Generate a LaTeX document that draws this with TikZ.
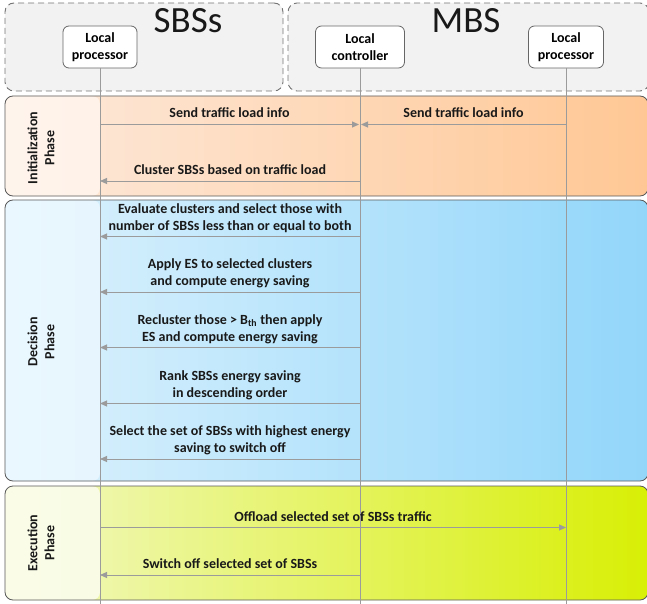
\documentclass[tikz,border=0pt]{standalone}
\usepackage{fontspec}
\setmainfont{Carlito}
\usetikzlibrary{positioning, arrows.meta, shapes.geometric}
\definecolor{groupe}{HTML}{F2F2F2}
\definecolor{bord}{HTML}{595959}
\definecolor{trait}{HTML}{9B9B9B}
\definecolor{initA}{HTML}{FFF4EC}
\definecolor{initB}{HTML}{FCE3D1}
\definecolor{initC}{HTML}{FDEADD}
\definecolor{initD}{HTML}{FFC794}
\definecolor{decA}{HTML}{EAF7FE}
\definecolor{decB}{HTML}{D3EEFC}
\definecolor{decC}{HTML}{DDF2FD}
\definecolor{decD}{HTML}{92D6FA}
\definecolor{exeA}{HTML}{FAFCE8}
\definecolor{exeB}{HTML}{F1F7CB}
\definecolor{exeC}{HTML}{F2F8C4}
\definecolor{exeD}{HTML}{D8EF05}

\begin{document}
\begin{tikzpicture}[
  x=1pt, y=-1pt,
  font=\fontsize{14}{17}\selectfont\bfseries,
  grp/.style={draw=black!55, dashed, dash pattern=on 6pt off 4pt, fill=groupe,
              rounded corners=9pt, line width=0.9pt},
  titre/.style={font=\fontsize{37}{40}\selectfont, text=black!90, anchor=base},
  acteur/.style={draw=black!60, fill=white, rounded corners=6pt, align=center,
                 minimum height=42pt, inner sep=2pt, line width=0.8pt},
  phase/.style={draw=bord, rounded corners=8pt, line width=0.8pt, minimum width=643pt,
                path picture={\shade[left color=#1A, right color=#1B]
                  (path picture bounding box.north west) rectangle
                  ([xshift=95pt]path picture bounding box.south west);},
                left color=#1C, right color=#1D},
  etiq/.style={rotate=90, align=center, text=black!90},
  vie/.style={trait, line width=1pt},
  msg/.style={trait, line width=1pt, -{Triangle[length=7pt,width=6pt]}},
  lbl/.style={above, align=center, inner sep=0pt, yshift=6pt, text depth=0pt, text=black!90},
]
\useasboundingbox (0,0) rectangle (647,604);
% les deux groupes
\node[grp, minimum width=278pt, minimum height=88pt] (grpS) at (144,47) {};
\node[grp, minimum width=361pt, minimum height=88pt] (grpM) at (468.5,47) {};
\node[titre] (tS) at (188,33) {SBSs};
\node[titre] (tM) at (466,33) {MBS};
\node[acteur, minimum width=74pt] (sbsp) at (100,47) {Local\\processor};
\node[acteur, minimum width=89pt] (ctrl) at (360,47) {Local\\controller};
\node[acteur, minimum width=75pt] (mbsp) at (566,47) {Local\\processor};
% les trois phases
\node[phase=init, minimum height=100pt] (init) at (326.5,146) {};
\node[phase=dec, minimum height=281pt] (deci) at (326.5,340.5) {};
\node[phase=exe, minimum height=114pt] (exec) at (326.5,543) {};
\node[etiq] (lI) at (41,148) {Initialization\\Phase};
\node[etiq] (lD) at (41,342) {Decision\\Phase};
\node[etiq] (lE) at (41,543) {Execution\\Phase};
% lignes de vie
\coordinate (bas) at (0,604);
\draw[vie] (sbsp) -- (sbsp |- bas);
\draw[vie] (ctrl) -- (ctrl |- bas);
\draw[vie] (mbsp) -- (mbsp |- bas);
% messages
\coordinate (r1) at (0,124.5);
\coordinate (r2) at (0,181);
\coordinate (r3) at (0,236.5);
\coordinate (r4) at (0,292);
\coordinate (r5) at (0,347.5);
\coordinate (r6) at (0,403.5);
\coordinate (r7) at (0,459);
\coordinate (r8) at (0,527.5);
\coordinate (r9) at (0,575);
\draw[msg] (sbsp |- r1) -- node[lbl] (m1) {Send traffic load info} ([xshift=-1pt]ctrl |- r1);
\draw[msg] (mbsp |- r1) -- node[lbl] (m2) {Send traffic load info} ([xshift=1pt]ctrl |- r1);
\draw[msg] (ctrl |- r2) -- node[lbl] (m3) {Cluster SBSs based on traffic load} (sbsp |- r2);
\draw[msg] (ctrl |- r3) -- node[lbl] (m4) {Evaluate clusters and select those with\\number of SBSs less than or equal to both} (sbsp |- r3);
\draw[msg] (ctrl |- r4) -- node[lbl] (m5) {Apply ES to selected clusters\\and compute energy saving} (sbsp |- r4);
\draw[msg] (ctrl |- r5) -- node[lbl] (m6) {Recluster those > B\textsubscript{th} then apply\\ES and compute energy saving} (sbsp |- r5);
\draw[msg] (ctrl |- r6) -- node[lbl] (m7) {Rank SBSs energy saving\\in descending order} (sbsp |- r6);
\draw[msg] (ctrl |- r7) -- node[lbl] (m8) {Select the set of SBSs with highest energy\\saving to switch off} (sbsp |- r7);
\draw[msg] (sbsp |- r8) -- node[lbl] (m9) {Offload selected set of SBSs traffic} (mbsp |- r8);
\draw[msg] (ctrl |- r9) -- node[lbl] (m10) {Switch off selected set of SBSs} (sbsp |- r9);
\end{tikzpicture}
\end{document}
